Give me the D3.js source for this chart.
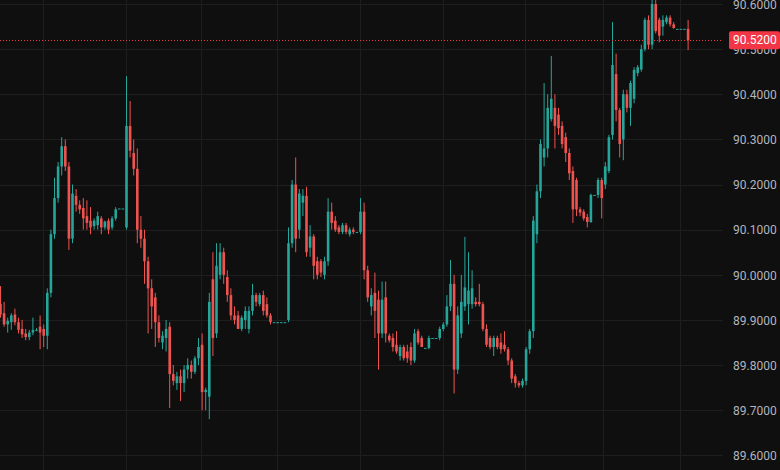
<!DOCTYPE html>
<html>
<head>
<meta charset="utf-8">
<script src="https://cdn.jsdelivr.net/npm/d3@7"></script>
<style>
  html, body { margin: 0; padding: 0; background: #0f0f0f; }
  svg { display: block; }
</style>
</head>
<body>
<svg id="chart" width="780" height="470" font-family="Roboto, sans-serif" font-size="12"></svg>
<script>
// OHLC values, one entry per candle
const opens = [
  89.935, 89.915, 89.89, 89.895, 89.912, 89.895, 89.88, 89.87, 89.862, 89.872,
  89.878, 89.885, 89.88, 89.865, 89.96, 90.09, 90.17, 90.24, 90.285, 90.24,
  90.08, 90.175, 90.155, 90.148, 90.13, 90.12, 90.108, 90.11, 90.125, 90.105,
  90.12, 90.105, 90.125, 90.147, 90.147, 90.105, 90.33, 90.27, 90.235, 90.1,
  90.08, 90.03, 89.97, 89.95, 89.895, 89.85, 89.86, 89.885, 89.78, 89.76,
  89.775, 89.76, 89.79, 89.8, 89.785, 89.815, 89.845, 89.74, 89.73, 89.99,
  89.87, 90.0, 90.05, 89.995, 89.955, 89.91, 89.91, 89.88, 89.9, 89.88,
  89.92, 89.955, 89.935, 89.955, 89.935, 89.91, 89.895, 89.895, 89.895, 89.895,
  89.9, 90.07, 90.2, 90.1, 90.16, 90.175, 90.06, 90.085, 90.03, 90.03,
  90.0, 90.03, 90.14, 90.12, 90.105, 90.095, 90.11, 90.09, 90.1, 90.095,
  90.095, 90.14, 90.01, 89.93, 89.96, 89.945, 89.87, 89.95, 89.865, 89.86,
  89.845, 89.82, 89.84, 89.83, 89.84, 89.81, 89.875, 89.86, 89.838, 89.838,
  89.86, 89.86, 89.86, 89.88, 89.89, 89.93, 89.98, 89.79, 89.87, 89.93,
  89.935, 89.935, 89.94, 89.94, 89.935, 89.88, 89.86, 89.84, 89.86, 89.85,
  89.845, 89.835, 89.81, 89.775, 89.76, 89.755, 89.765, 89.835, 89.875, 90.09,
  90.185, 90.26, 90.28, 90.345, 90.37, 90.355, 90.33, 90.305, 90.27, 90.23,
  90.21, 90.145, 90.14, 90.128, 90.117, 90.177, 90.177, 90.21, 90.2, 90.23,
  90.31, 90.445, 90.365, 90.3, 90.4, 90.37, 90.39, 90.447, 90.455, 90.5,
  90.565, 90.51, 90.6, 90.565, 90.55, 90.56, 90.57, 90.555, 90.545, 90.545,
  90.545, 90.545
];
const highs = [
  89.975, 89.94, 89.905, 89.915, 89.925, 89.905, 89.9, 89.88, 89.878, 89.905,
  89.882, 89.91, 89.89, 89.97, 90.1, 90.215, 90.25, 90.305, 90.3, 90.25,
  90.2, 90.19, 90.165, 90.17, 90.165, 90.15, 90.125, 90.14, 90.13, 90.12,
  90.125, 90.13, 90.15, 90.147, 90.147, 90.44, 90.385, 90.3, 90.28, 90.13,
  90.1, 90.04, 89.99, 89.96, 89.91, 89.875, 89.9, 89.895, 89.8, 89.785,
  89.79, 89.8, 89.815, 89.81, 89.82, 89.86, 89.87, 89.75, 89.96, 90.05,
  90.07, 90.07, 90.06, 90.01, 89.97, 89.93, 89.92, 89.91, 89.93, 89.93,
  89.98, 89.96, 89.96, 89.965, 89.95, 89.915, 89.895, 89.895, 89.895, 89.895,
  90.105, 90.21, 90.26, 90.19, 90.19, 90.195, 90.11, 90.09, 90.04, 90.035,
  90.04, 90.17, 90.16, 90.13, 90.11, 90.115, 90.115, 90.105, 90.105, 90.095,
  90.17, 90.16, 90.02, 89.97, 90.005, 89.965, 89.985, 89.985, 89.87, 89.87,
  89.875, 89.845, 89.845, 89.845, 89.85, 89.88, 89.88, 89.865, 89.838, 89.865,
  89.86, 89.86, 89.885, 89.895, 89.955, 90.033, 90.0, 89.93, 90.0, 90.084,
  90.05, 90.01, 89.95, 89.98, 89.94, 89.89, 89.865, 89.865, 89.865, 89.87,
  89.875, 89.84, 89.815, 89.78, 89.765, 89.77, 89.84, 89.88, 90.13, 90.2,
  90.3, 90.425, 90.4, 90.485, 90.4, 90.37, 90.34, 90.315, 90.28, 90.24,
  90.215, 90.15, 90.145, 90.135, 90.18, 90.177, 90.215, 90.215, 90.25, 90.31,
  90.56, 90.49, 90.37, 90.41, 90.41, 90.43, 90.46, 90.465, 90.51, 90.57,
  90.575, 90.61, 90.61, 90.57, 90.575, 90.575, 90.575, 90.56, 90.545, 90.545,
  90.545, 90.565
];
const lows = [
  89.905, 89.885, 89.872, 89.878, 89.888, 89.87, 89.86, 89.855, 89.855, 89.866,
  89.875, 89.835, 89.84, 89.835, 89.95, 90.08, 90.16, 90.22, 90.23, 90.055,
  90.07, 90.14, 90.135, 90.1, 90.1, 90.09, 90.1, 90.1, 90.09, 90.1,
  90.09, 90.1, 90.12, 90.147, 90.147, 90.1, 90.26, 90.22, 90.07, 90.06,
  89.98, 89.87, 89.88, 89.84, 89.85, 89.835, 89.83, 89.705, 89.755, 89.745,
  89.72, 89.74, 89.77, 89.77, 89.78, 89.8, 89.7, 89.7, 89.68, 89.82,
  89.86, 89.99, 89.98, 89.94, 89.9, 89.89, 89.88, 89.875, 89.88, 89.87,
  89.91, 89.93, 89.93, 89.91, 89.905, 89.89, 89.895, 89.895, 89.895, 89.895,
  89.895, 90.06, 90.05, 90.08, 90.13, 90.04, 90.04, 89.99, 89.99, 89.995,
  89.99, 90.02, 90.1, 90.095, 90.09, 90.09, 90.09, 90.085, 90.09, 90.095,
  90.09, 89.99, 89.94, 89.91, 89.86, 89.79, 89.86, 89.85, 89.85, 89.83,
  89.825, 89.81, 89.81, 89.805, 89.8, 89.805, 89.845, 89.84, 89.838, 89.835,
  89.86, 89.86, 89.855, 89.875, 89.885, 89.92, 89.737, 89.78, 89.86, 89.92,
  89.89, 89.925, 89.93, 89.93, 89.875, 89.84, 89.835, 89.82, 89.835, 89.825,
  89.83, 89.8, 89.76, 89.75, 89.75, 89.75, 89.755, 89.825, 89.86, 90.07,
  90.17, 90.24, 90.26, 90.34, 90.28, 90.31, 90.28, 90.25, 90.21, 90.115,
  90.13, 90.13, 90.12, 90.105, 90.115, 90.177, 90.17, 90.125, 90.19, 90.225,
  90.3, 90.34, 90.26, 90.254, 90.36, 90.33, 90.38, 90.44, 90.45, 90.495,
  90.5, 90.5, 90.535, 90.515, 90.53, 90.555, 90.55, 90.545, 90.545, 90.545,
  90.545, 90.498
];
const closes = [
  89.912, 89.89, 89.898, 89.91, 89.895, 89.878, 89.868, 89.862, 89.872, 89.878,
  89.878, 89.872, 89.865, 89.96, 90.09, 90.17, 90.24, 90.285, 90.24, 90.08,
  90.18, 90.155, 90.145, 90.125, 90.115, 90.105, 90.12, 90.13, 90.105, 90.118,
  90.1, 90.125, 90.145, 90.147, 90.147, 90.33, 90.275, 90.235, 90.1, 90.08,
  90.03, 89.97, 89.93, 89.895, 89.86, 89.865, 89.88, 89.78, 89.765, 89.775,
  89.76, 89.79, 89.8, 89.785, 89.815, 89.84, 89.74, 89.745, 89.94, 89.86,
  90.02, 90.05, 90.0, 89.955, 89.91, 89.9, 89.88, 89.905, 89.92, 89.92,
  89.955, 89.94, 89.955, 89.92, 89.91, 89.895, 89.895, 89.895, 89.895, 89.895,
  90.07, 90.2, 90.08, 90.18, 90.175, 90.05, 90.085, 90.02, 90.0, 90.005,
  90.03, 90.14, 90.115, 90.1, 90.095, 90.11, 90.095, 90.1, 90.095, 90.095,
  90.14, 90.01, 89.95, 89.955, 89.92, 89.87, 89.945, 89.87, 89.855, 89.84,
  89.83, 89.84, 89.815, 89.815, 89.81, 89.87, 89.85, 89.84, 89.838, 89.86,
  89.86, 89.86, 89.88, 89.89, 89.93, 89.98, 89.79, 89.91, 89.94, 89.972,
  89.965, 89.97, 89.935, 89.935, 89.88, 89.845, 89.84, 89.86, 89.84, 89.835,
  89.835, 89.81, 89.77, 89.76, 89.755, 89.765, 89.835, 89.875, 90.12, 90.185,
  90.29, 90.28, 90.37, 90.39, 90.33, 90.325, 90.29, 90.27, 90.225, 90.145,
  90.145, 90.138, 90.125, 90.117, 90.177, 90.177, 90.21, 90.17, 90.24, 90.305,
  90.465, 90.365, 90.29, 90.4, 90.37, 90.425, 90.454, 90.46, 90.5, 90.565,
  90.51, 90.6, 90.54, 90.53, 90.565, 90.57, 90.555, 90.547, 90.545, 90.545,
  90.545, 90.52
];

// price axis labels and time gridlines (candle index positions)
const priceTicks = [89.6, 89.7, 89.8, 89.9, 90.0, 90.1, 90.2, 90.3, 90.4, 90.5, 90.6];
const timeGrid = [11.8, 34.9, 55.6, 76.9, 99.9, 122.8, 145.7, 167.5, 188.8];
const lastPrice = 90.52;

const upColor = "#26a69a", downColor = "#ef5350";

const svg = d3.select("#chart");
const W = +svg.attr("width"), H = +svg.attr("height");
const plotRight = 723;

svg.append("rect").attr("width", W).attr("height", H).attr("fill", "#0f0f0f");

const candles = opens.map((o, i) => ({ i: i, o: o, h: highs[i], l: lows[i], c: closes[i] }));

const x = d3.scaleLinear().domain([0, candles.length - 1]).range([0.5, 688.1]);
const y = d3.scaleLinear().domain([89.6, 90.6]).range([455.3, 4.05]);
const bodyW = 2.6;

// grid
const grid = svg.append("g").attr("stroke", "#1e1e1e").attr("stroke-width", 1);
grid.selectAll(".hgrid").data(priceTicks).enter().append("line")
    .attr("class", "hgrid")
    .attr("x1", 0).attr("x2", plotRight)
    .attr("y1", d => Math.round(y(d)) + 0.5).attr("y2", d => Math.round(y(d)) + 0.5);
grid.selectAll(".vgrid").data(timeGrid).enter().append("line")
    .attr("class", "vgrid")
    .attr("x1", d => Math.round(x(d)) + 0.5).attr("x2", d => Math.round(x(d)) + 0.5)
    .attr("y1", 0).attr("y2", H);

// candles
const g = svg.append("g");
const candle = g.selectAll(".candle").data(candles).enter().append("g")
    .attr("class", "candle")
    .attr("fill", d => d.c >= d.o ? upColor : downColor)
    .attr("stroke", d => d.c >= d.o ? upColor : downColor);

candle.append("line")
    .attr("x1", d => x(d.i)).attr("x2", d => x(d.i))
    .attr("y1", d => y(Math.max(d.h, d.o, d.c)))
    .attr("y2", d => y(Math.min(d.l, d.o, d.c)))
    .attr("stroke-width", 1);

candle.append("rect")
    .attr("stroke", "none")
    .attr("x", d => x(d.i) - bodyW / 2)
    .attr("width", bodyW)
    .attr("y", d => y(Math.max(d.o, d.c)))
    .attr("height", d => Math.max(1, Math.abs(y(d.o) - y(d.c))));

// last price line
svg.append("line")
    .attr("x1", 0).attr("x2", plotRight)
    .attr("y1", Math.round(y(lastPrice)) + 0.5).attr("y2", Math.round(y(lastPrice)) + 0.5)
    .attr("stroke", "#f23645").attr("stroke-width", 1)
    .attr("stroke-dasharray", "1,2");

// price axis
const axis = svg.append("g")
    .attr("transform", "translate(733,0)")
    .call(d3.axisRight(y).tickValues(priceTicks).tickSize(0).tickPadding(0).tickFormat(d3.format(".4f")));
axis.select(".domain").remove();
axis.selectAll("text")
    .attr("fill", "#b2b5be")
    .attr("font-family", "Roboto, sans-serif")
    .attr("font-size", 12)
    .attr("dy", "0.35em");

// last price label
const yl = y(lastPrice);
svg.append("rect")
    .attr("x", 729).attr("y", yl - 9).attr("width", 51).attr("height", 18)
    .attr("rx", 2)
    .attr("fill", "#f23645");
svg.append("text")
    .attr("x", 733).attr("y", yl).attr("dy", "0.35em")
    .attr("fill", "#ffffff")
    .text(d3.format(".4f")(lastPrice));
</script>
</body>
</html>
